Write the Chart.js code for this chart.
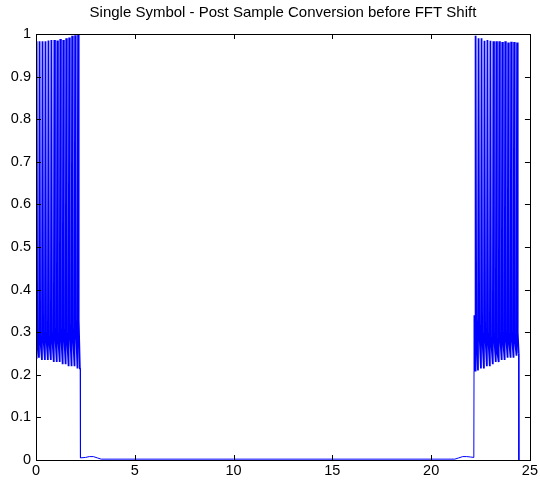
<!DOCTYPE html>
<html>
  <head>
    <meta charset="utf-8"/>
    <style type="text/css">
      body { margin: 0px; padding: 0px; background: #ffffff; }
      #wrap { width: 540px; height: 484px; }
    </style>
  </head>
  <body>
    <div id="wrap"><canvas id="chart" width="540" height="484"></canvas></div>
    <script src="https://cdn.jsdelivr.net/npm/chart.js@4/dist/chart.umd.min.js"></script>
    <script>
      // values (left burst, near-zero floor, right burst, end drop)
      var leftX = [0.00, 0.03, 0.06, 0.15, 0.18, 0.21, 0.30, 0.33, 0.36, 0.45, 0.48, 0.51,
                   0.60, 0.63, 0.66, 0.75, 0.78, 0.81, 0.90, 0.93, 0.96, 1.05, 1.08, 1.11,
                   1.20, 1.23, 1.26, 1.35, 1.38, 1.41, 1.50, 1.53, 1.56, 1.65, 1.68, 1.71,
                   1.80, 1.83, 1.86, 1.95, 1.98, 2.01, 2.10, 2.13, 2.16, 2.22, 2.24];
      var leftY = [0.24, 0.983, 0.30, 0.24, 0.983, 0.29, 0.235, 0.983, 0.30, 0.235, 0.983, 0.30,
                   0.235, 0.985, 0.29, 0.235, 0.986, 0.30, 0.23, 0.986, 0.31, 0.23, 0.985, 0.30,
                   0.23, 0.988, 0.31, 0.225, 0.986, 0.31, 0.225, 0.99, 0.30, 0.22, 0.992, 0.32,
                   0.22, 0.996, 0.31, 0.22, 0.997, 0.33, 0.215, 1.0, 0.33, 0.215, 0.215];
      var floorX = [2.25, 2.5, 2.7, 2.9, 3.1, 3.3, 10, 15, 20, 21.2, 21.4, 21.6, 21.8, 22.0, 22.16];
      var floorY = [0.005, 0.006, 0.008, 0.008, 0.005, 0.002, 0.002, 0.002, 0.002, 0.002, 0.005, 0.008, 0.008, 0.007, 0.006];
      var rightX = [22.17, 22.19, 22.22, 22.25, 22.28, 22.37, 22.40, 22.43, 22.52, 22.55, 22.58,
                    22.67, 22.70, 22.73, 22.82, 22.85, 22.88, 22.97, 23.00, 23.03, 23.12, 23.15, 23.18,
                    23.27, 23.30, 23.33, 23.42, 23.45, 23.48, 23.57, 23.60, 23.63, 23.72, 23.75, 23.78,
                    23.87, 23.90, 23.93, 24.02, 24.05, 24.08, 24.17, 24.20, 24.23, 24.32, 24.35, 24.38,
                    24.43];
      var rightY = [0.21, 0.34, 0.21, 0.996, 0.33, 0.21, 0.99, 0.32, 0.215, 0.99, 0.30,
                    0.215, 0.984, 0.31, 0.22, 0.986, 0.30, 0.22, 0.984, 0.29, 0.225, 0.983, 0.30,
                    0.23, 0.983, 0.26, 0.23, 0.983, 0.30, 0.235, 0.981, 0.29, 0.235, 0.983, 0.30,
                    0.24, 0.98, 0.29, 0.24, 0.982, 0.30, 0.24, 0.981, 0.29, 0.245, 0.98, 0.30,
                    0.25];
      var tailX = [24.43, 24.44];
      var tailY = [0.25, 0.0];
      var xTicks = [0, 5, 10, 15, 20, 25];
      var yTicks = [0, 0.1, 0.2, 0.3, 0.4, 0.5, 0.6, 0.7, 0.8, 0.9, 1];
      var titleText = 'Single Symbol - Post Sample Conversion before FFT Shift';

      function pts(xs, ys) {
        var out = [];
        for (var i = 0; i < xs.length; i++) out.push({x: xs[i], y: ys[i]});
        return out;
      }
      var leftPts = pts(leftX, leftY);
      var rightPts = pts(rightX, rightY);
      // thin floor joins the end of the left burst to the start of the right one
      var floorPts = [leftPts[leftPts.length - 1]].concat(pts(floorX, floorY), [rightPts[0]]);
      var tailPts = pts(tailX, tailY);

      var fam = '"Liberation Sans", Arial, sans-serif';
      var tickFont = {family: fam, size: 14.5};

      // matlab style box with inward ticks on all four sides
      var boxTicks = {
        id: 'boxTicks',
        afterDraw: function(chart) {
          var ctx = chart.ctx, a = chart.chartArea;
          var xs = chart.scales.x, ys = chart.scales.y;
          var len = 5;
          ctx.save();
          ctx.strokeStyle = '#000000';
          ctx.lineWidth = 1;
          ctx.beginPath();
          xTicks.forEach(function(v) {
            var px = Math.round(xs.getPixelForValue(v)) + 0.5;
            ctx.moveTo(px, a.bottom); ctx.lineTo(px, a.bottom - len);
            ctx.moveTo(px, a.top); ctx.lineTo(px, a.top + len);
          });
          yTicks.forEach(function(v) {
            var py = Math.round(ys.getPixelForValue(v)) + 0.5;
            ctx.moveTo(a.left, py); ctx.lineTo(a.left + len, py);
            ctx.moveTo(a.right, py); ctx.lineTo(a.right - len, py);
          });
          ctx.stroke();
          ctx.strokeRect(Math.round(a.left) + 0.5, Math.round(a.top) + 0.5,
                         Math.round(a.right - a.left), Math.round(a.bottom - a.top));
          ctx.restore();
        }
      };

      function line(data, w) {
        return {data: data, borderColor: '#0000ff', borderWidth: w, pointRadius: 0, tension: 0, fill: false};
      }

      new Chart(document.getElementById('chart'), {
        type: 'line',
        data: {
          datasets: [line(leftPts, 1.8), line(floorPts, 1), line(rightPts, 1.8), line(tailPts, 1)]
        },
        options: {
          responsive: false,
          animation: false,
          layout: {padding: {left: 0, right: 7, top: 0, bottom: 0}},
          plugins: {
            legend: {display: false},
            tooltip: {enabled: false},
            title: {
              display: true,
              text: titleText,
              fullSize: false,
              color: '#000000',
              font: {family: fam, size: 15, weight: 'normal'},
              padding: {top: 4, bottom: 12}
            }
          },
          scales: {
            x: {
              type: 'linear',
              min: 0, max: 25,
              afterBuildTicks: function(s) { s.ticks = xTicks.map(function(v) { return {value: v}; }); },
              afterFit: function(s) { s.height = 24; },
              grid: {display: false, drawTicks: false},
              border: {display: false},
              ticks: {color: '#000000', font: tickFont, padding: 2, maxRotation: 0}
            },
            y: {
              type: 'linear',
              min: 0, max: 1,
              afterBuildTicks: function(s) { s.ticks = yTicks.map(function(v) { return {value: v}; }); },
              afterFit: function(s) { s.width = 36; },
              grid: {display: false, drawTicks: false},
              border: {display: false},
              ticks: {color: '#000000', font: tickFont, padding: 5,
                      callback: function(v) { return String(Math.round(v * 10) / 10); }}
            }
          }
        },
        plugins: [boxTicks]
      });
    </script>
  </body>
</html>
